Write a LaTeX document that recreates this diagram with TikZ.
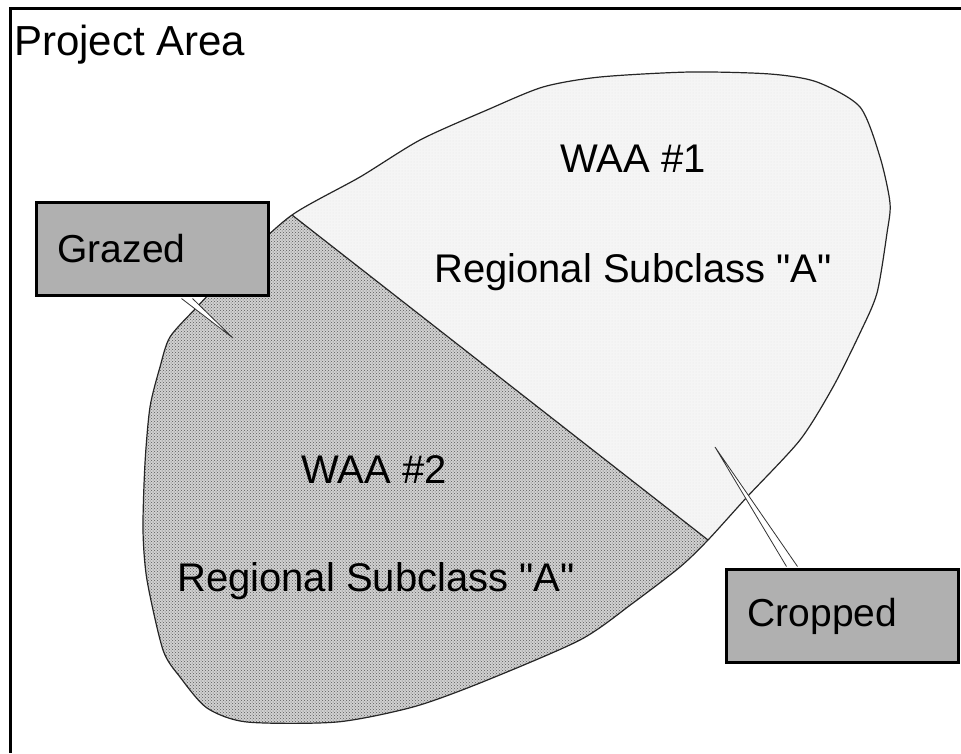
\documentclass[tikz,border=0pt]{standalone}
\usepackage{fontspec}
\setmainfont{Liberation Sans}
\usetikzlibrary{calc,patterns}
\begin{document}
\begin{tikzpicture}[x=1pt,y=-1pt]
\tikzstyle{every node}+=[inner sep=0pt]
\tikzstyle{landuse}=[draw=black,line width=3pt,fill=black!31,minimum height=93pt,inner xsep=21pt,text width=190pt,align=left,anchor=north west,font=\fontsize{39}{47}\selectfont]
\tikzstyle{callout}=[draw=black!80,line width=0.8pt,fill=white]
\tikzstyle{areatext}=[font=\fontsize{40}{48}\selectfont,anchor=base]
\tikzstyle{outline}=[line width=1.2pt,black!85]
\useasboundingbox (0,0) rectangle (961,753);
\fill[white] (0,0) rectangle (961,753);
\def\blob{plot[smooth cycle,tension=0.45] coordinates {(292,215) (360,177) (420,140) (487,110) (543,87) (600,77) (690,72) (770,74) (817,82) (860,107) (880,157) (890,203) (887,233) (877,293) (860,333) (833,387) (800,440) (747,497) (708,540) (680,567) (633,603) (580,640) (480,683) (413,707) (337,722) (247,722) (207,708) (180,677) (163,650) (147,580) (143,530) (145,463) (150,407) (160,367) (170,337) (197,307) (240,262)}}
\fill[black!4] \blob;
\fill[pattern=dots,pattern color=black!10] \blob;
\begin{scope}
\clip (84,52) -- (916,703) -- (961,760) -- (0,760) -- (0,52) -- cycle;
\fill[black!18] \blob;
\fill[pattern=crosshatch dots,pattern color=black!65] \blob;
\end{scope}
\draw[outline] \blob;
\coordinate (divtop) at (292,215);
\coordinate (divbot) at (708,540);
\draw[outline] (divtop) -- (divbot);
\draw[line width=3pt] (961,8) -- (10,8) -- (10,753);
\node[font=\fontsize{42}{50}\selectfont,anchor=base west] (project) at (14,55) {Project Area};
\node[areatext] (waa1) at (633,172) {WAA \#1};
\node[areatext] (sub1) at (633,282) {Regional Subclass \textquotedbl A\textquotedbl};
\node[areatext] (waa2) at (374,483) {WAA \#2};
\node[areatext] (sub2) at (376,591) {Regional Subclass \textquotedbl A\textquotedbl};
\coordinate (gtip) at (233,338);
\coordinate (ctip) at (715,447);
\node[landuse] (grazed) at (35,201) {Grazed};
\node[landuse] (cropped) at (725,568) {Cropped};
\filldraw[callout] ($(grazed.south)+(29,1.5)$) -- (gtip) -- ($(grazed.south)+(40,1.5)$);
\filldraw[callout] ($(cropped.north)+(-56,-1.5)$) -- (ctip) -- ($(cropped.north)+(-45,-1.5)$);
\end{tikzpicture}
\end{document}
